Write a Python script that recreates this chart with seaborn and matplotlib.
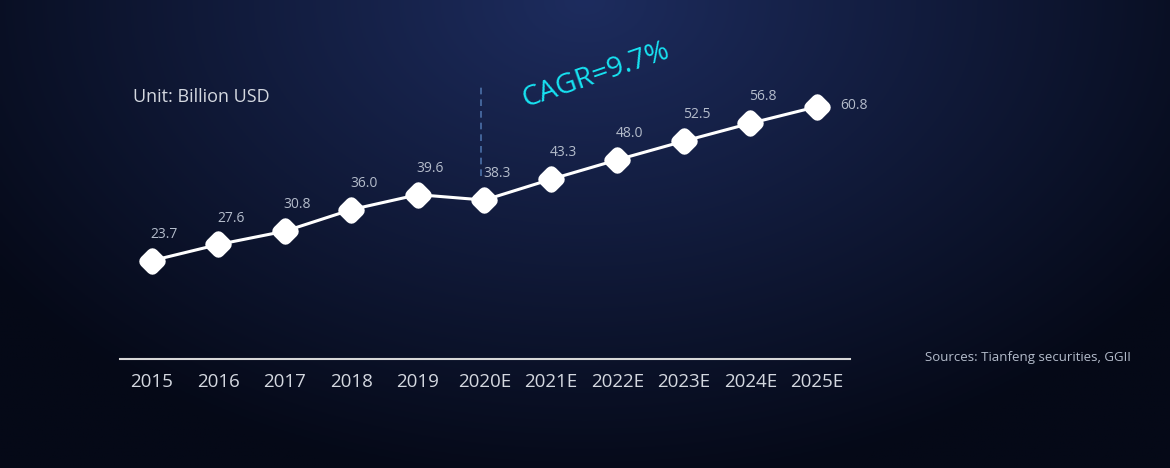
import numpy as np
import pandas as pd
import matplotlib
matplotlib.use("Agg")
import matplotlib.pyplot as plt
from matplotlib.markers import MarkerStyle
import seaborn as sns

years = ["2015", "2016", "2017", "2018", "2019", "2020E",
         "2021E", "2022E", "2023E", "2024E", "2025E"]
market_size = [23.7, 27.6, 30.8, 36.0, 39.6, 38.3, 43.3, 48.0, 52.5, 56.8, 60.8]
unit_label = "Unit: Billion USD"
cagr_label = "CAGR=9.7%"
source_label = "Sources: Tianfeng securities, GGII"

df = pd.DataFrame({"year": years, "value": market_size})
df["pos"] = range(len(df))

sns.set_style("dark")
plt.rcParams["font.family"] = ["Open Sans", "DejaVu Sans"]

fig = plt.figure(figsize=(11.7, 4.68), dpi=100)

# background gradient
bg = fig.add_axes([0, 0, 1, 1], zorder=-10)
gx, gy = np.meshgrid(np.linspace(0, 1, 400), np.linspace(0, 1, 200))
r = np.sqrt(((gx - 0.5) / 0.62) ** 2 + ((gy - 0.0) / 1.05) ** 2)
t = np.clip(r, 0, 1)
top = np.array([0x1d, 0x2c, 0x5e]) / 255
low = np.array([0x05, 0x09, 0x17]) / 255
img = top[None, None, :] * (1 - t[..., None]) + low[None, None, :] * t[..., None]
bg.imshow(img, aspect="auto", extent=[0, 1, 1, 0])
bg.set_axis_off()

ax = fig.add_axes([0.1026, 0.2329, 0.624, 0.6207])
ax.set_facecolor("none")

sns.lineplot(data=df, x="pos", y="value", ax=ax, color="white", lw=2.2)
ax.plot(df["pos"], df["value"], ls="none",
        marker=MarkerStyle("D", joinstyle="round"), markersize=7,
        markeredgewidth=9, markeredgecolor="white", markerfacecolor="white")

for i, v in enumerate(market_size):
    if i == len(market_size) - 1:
        ax.annotate(f"{v:.1f}", (i, v), xytext=(17, 1), textcoords="offset points",
                    ha="left", va="center", fontsize=10, color="#b4bccb")
    else:
        ax.annotate(f"{v:.1f}", (i, v), xytext=(9, 19), textcoords="offset points",
                    ha="center", va="center", fontsize=10, color="#b4bccb")

ax.set_xlim(-0.48, 10.5)
ax.set_ylim(0, 70)
ax.set_xticks(df["pos"])
ax.set_xticklabels(years)
ax.set_yticks([])
ax.set_xlabel("")
ax.set_ylabel("")
ax.grid(False)
ax.tick_params(axis="x", length=0, pad=10, labelsize=13.5, labelcolor="#d4d8e0")
for s in ["top", "right", "left"]:
    ax.spines[s].set_visible(False)
ax.spines["bottom"].set_color("#d8d8d8")
ax.spines["bottom"].set_linewidth(1.5)

# dashed divider between actuals and estimates
ax.axvline(4.95, ymin=0.63, ymax=0.94, color="#4b70a8", lw=1.2, ls=(0, (4, 3)))

fig.text(0.114, 0.793, unit_label, fontsize=13, color="#d4d8e0", va="center")
fig.text(0.509, 0.84, cagr_label, fontsize=20.5, color="#17e3f2", rotation=19,
         ha="center", va="center")
fig.text(0.791, 0.237, source_label, fontsize=9.5, color="#b4bccb", va="center")

fig.savefig("out.png", dpi=100)
